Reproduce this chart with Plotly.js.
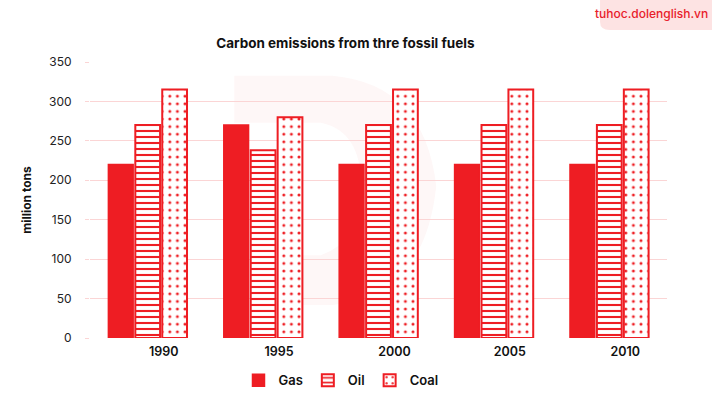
<!DOCTYPE html>
<html>
<head>
<meta charset="utf-8">
<script src="https://cdn.plot.ly/plotly-3.0.1.min.js"></script>
<style>
  html, body { margin: 0; padding: 0; background: #ffffff; }
  #chart { width: 712px; height: 408px; }
</style>
</head>
<body>
<div id="chart"></div>
<script>
// Carbon emissions (million tons) by fuel type
const years = ['1990', '1995', '2000', '2005', '2010'];
const gas  = [220, 270, 220, 220, 220];
const oil  = [270, 238, 270, 270, 270];
const coal = [315, 280, 315, 315, 315];

const RED = '#ee1d23';
const GRID = '#fbd5d5';

const traces = [
  {
    type: 'bar', name: 'Gas', x: years, y: gas,
    marker: { color: RED, line: { color: RED, width: 1.5 } }
  },
  {
    type: 'bar', name: 'Oil', x: years, y: oil,
    marker: {
      color: RED,
      line: { color: RED, width: 2 },
      pattern: { shape: '-', fillmode: 'replace', fgcolor: RED, bgcolor: '#ffffff', size: 6, solidity: 0.35 }
    }
  },
  {
    type: 'bar', name: 'Coal', x: years, y: coal,
    marker: {
      color: RED,
      line: { color: RED, width: 2 },
      pattern: { shape: '.', fillmode: 'replace', fgcolor: RED, bgcolor: '#ffffff', size: 7.6, solidity: 0.12 }
    }
  }
];

const layout = {
  width: 712, height: 408,
  margin: { l: 90, r: 45, t: 62, b: 70, autoexpand: false },
  paper_bgcolor: '#ffffff',
  plot_bgcolor: 'rgba(0,0,0,0)',
  font: { family: 'Inter, "Open Sans", sans-serif', color: '#111111', size: 12 },
  title: {
    text: '<b>Carbon emissions from thre fossil fuels</b>',
    x: 0.485, xanchor: 'center', y: 0.895, yanchor: 'middle',
    font: { family: 'Inter, sans-serif', size: 13.5, color: '#111111' }
  },
  barmode: 'group',
  bargap: 0.30,
  bargroupgap: 0.08,
  xaxis: {
    type: 'category',
    showgrid: false, zeroline: false, showline: false,
    ticks: '', ticklabelshift: 16, ticklabelstandoff: 4,
    tickfont: { family: 'Inter, sans-serif', size: 12.5, color: '#111111', weight: 600 }
  },
  yaxis: {
    range: [0, 350], dtick: 50,
    showgrid: true, gridcolor: GRID, gridwidth: 1,
    zeroline: false, showline: false,
    ticks: 'outside', ticklen: 4, tickcolor: GRID,
    ticklabelstandoff: 11,
    tickfont: { family: 'Inter, sans-serif', size: 12, color: '#222222' },
    title: {
      text: '<b>million tons</b>', standoff: 14,
      font: { family: 'Inter, sans-serif', size: 12, color: '#111111' }
    }
  },
  legend: {
    orientation: 'h', x: 0.435, xanchor: 'center',
    yref: 'container', y: 0.068, yanchor: 'middle',
    font: { family: 'Inter, sans-serif', size: 13, color: '#111111', weight: 600 },
    itemwidth: 30, tracegroupgap: 0
  },
  shapes: [
    // faint brand mark behind the bars
    {
      type: 'path', xref: 'paper', yref: 'paper', layer: 'below',
      path: 'M 0.25 0.95 L 0.42 0.95 Q 0.58 0.92 0.6 0.55 Q 0.58 0.15 0.42 0.12 L 0.3 0.12 L 0.3 0.3 L 0.4 0.3 Q 0.47 0.35 0.47 0.55 Q 0.47 0.75 0.4 0.78 L 0.25 0.78 Z',
      fillcolor: 'rgba(238,29,35,0.035)', line: { width: 0 }
    },
    // site badge background
    {
      type: 'path', xref: 'paper', yref: 'paper', layer: 'above',
      path: 'M 1.08 1.226 L 0.884 1.226 L 0.884 1.145 Q 0.884 1.116 0.901 1.116 L 1.08 1.116 Z',
      fillcolor: '#fde3e3', line: { width: 0 }
    }
  ],
  annotations: [
    {
      text: 'tuhoc.dolenglish.vn', xref: 'paper', yref: 'paper',
      x: 0.974, y: 1.174, xanchor: 'center', yanchor: 'middle', showarrow: false,
      font: { family: 'Inter, sans-serif', size: 12, color: '#e8202a', weight: 500 }
    }
  ]
};

Plotly.newPlot('chart', traces, layout, { displayModeBar: false, staticPlot: true });
</script>
</body>
</html>
